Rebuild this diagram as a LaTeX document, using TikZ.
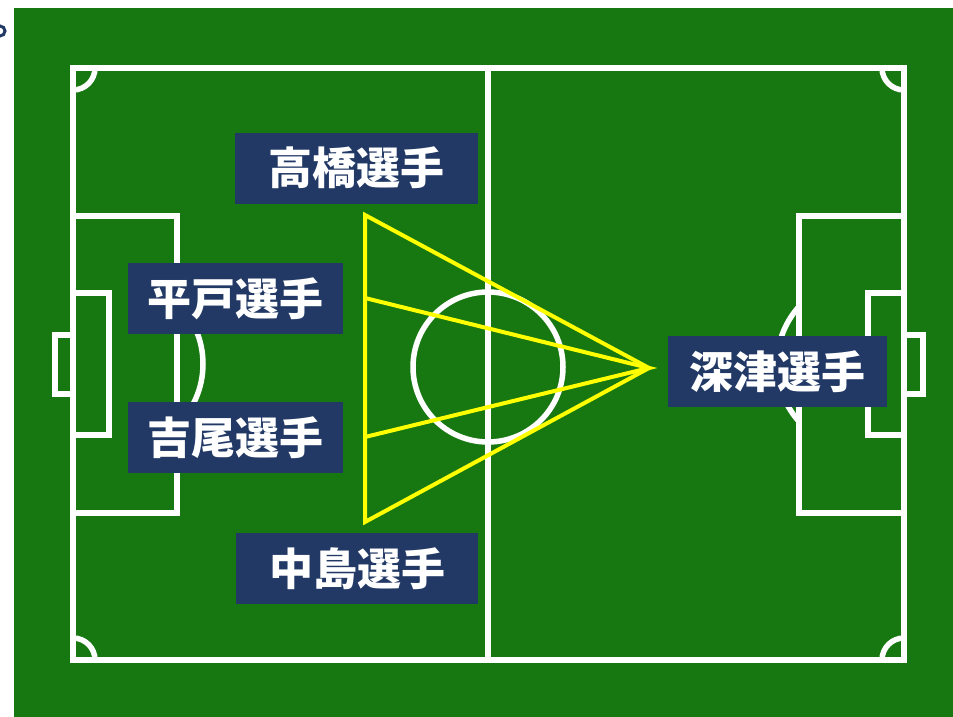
\documentclass[tikz,border=0pt]{standalone}
\usepackage{fontspec}
\newfontfamily\jpfont{Noto Sans CJK JP}
\usepackage{tikz}
\usetikzlibrary{positioning}
\usepackage{xcolor}
\definecolor{PitchGreen}{HTML}{177811}
\definecolor{PitchNavy}{HTML}{223966}
\definecolor{PassYellow}{HTML}{FFFF00}
\tikzset{
  pitchline/.style={draw=white,line width=5.5pt},
  player/.style={fill=PitchNavy,text=white,font=\jpfont\bfseries\fontsize{44}{44}\selectfont,inner sep=0pt,minimum height=71pt,align=center},
  passline/.style={draw=PassYellow,line width=4pt,line join=miter}
}

\begin{document}
\begin{tikzpicture}[x=1pt,y=-1pt]
  \useasboundingbox[fill=white] (0,0) rectangle (953,717);
  \fill[PitchGreen] (14,8) rectangle (953,717);
  \draw[PitchNavy,line width=3pt] (0,31) circle (5);
  \draw[pitchline] (73,68) rectangle (904,660);
  \draw[pitchline] (488,68) -- (488,660);
  \draw[pitchline] (488,367) circle (75);
  \begin{scope}
    \clip (73,68) rectangle (904,660);
    \foreach \cx/\cy in {73/68,904/68,73/660,904/660}
      \draw[pitchline] (\cx,\cy) circle (22);
  \end{scope}
  \draw[pitchline] (73,216) rectangle (177,513);
  \draw[pitchline] (73,293) rectangle (109,435);
  \draw[pitchline] (55,335) rectangle (73,394);
  \draw[pitchline] (799,216) rectangle (904,513);
  \draw[pitchline] (868,293) rectangle (904,435);
  \draw[pitchline] (904,335) rectangle (923,394);
  \begin{scope}
    \clip (177,0) rectangle (488,717);
    \draw[pitchline] (117,364) circle (86);
  \end{scope}
  \begin{scope}
    \clip (488,0) rectangle (799,717);
    \draw[pitchline] (863,364) circle (86);
  \end{scope}

  \node[player,minimum width=243pt] (takahashi) at (356.5,168) {高橋選手};
  \node[player,minimum width=215pt] (hirato) at (235.5,298.5) {平戸選手};
  \node[player,minimum width=215pt] (yoshio) at (235.5,437.5) {吉尾選手};
  \node[player,minimum width=242pt] (nakajima) at (357,568.5) {中島選手};
  \node[player,minimum width=219pt] (fukatsu) at (777.5,371.5) {深津選手};

  \coordinate (topPass) at (365,215);
  \coordinate (upperPass) at (365,298);
  \coordinate (lowerPass) at (365,437);
  \coordinate (bottomPass) at (365,522);
  \coordinate (apex) at (649,368);
  \draw[passline] (topPass) -- (apex) -- (bottomPass) -- cycle;
  \draw[passline] (upperPass) -- (apex) -- (lowerPass);
\end{tikzpicture}
\end{document}
